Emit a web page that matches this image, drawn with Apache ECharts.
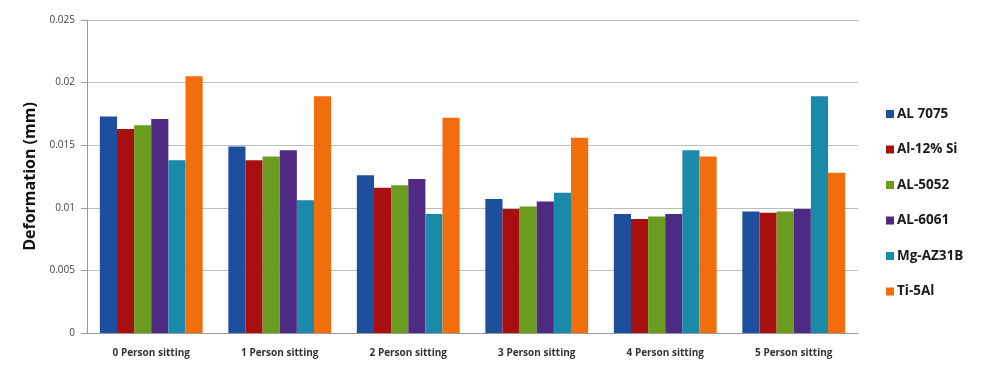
<!DOCTYPE html>
<html>
<head>
<meta charset="utf-8">
<script src="https://cdn.jsdelivr.net/npm/echarts@6/dist/echarts.min.js"></script>
<style>
  html, body { margin: 0; padding: 0; background: #fff; }
  #chart { width: 983px; height: 376px; }
</style>
</head>
<body>
<div id="chart"></div>
<script>
// Deformation (mm) of each alloy by number of people sitting
const categories = ['0 Person sitting', '1 Person sitting', '2 Person sitting', '3 Person sitting', '4 Person sitting', '5 Person sitting'];
const al7075  = [0.0173, 0.0149, 0.0126, 0.0107, 0.0095, 0.0097];
const al12Si  = [0.0163, 0.0138, 0.0116, 0.0099, 0.0091, 0.0096];
const al5052  = [0.0166, 0.0141, 0.0118, 0.0101, 0.0093, 0.0097];
const al6061  = [0.0171, 0.0146, 0.0123, 0.0105, 0.0095, 0.0099];
const mgAZ31B = [0.0138, 0.0106, 0.0095, 0.0112, 0.0146, 0.0189];
const ti5Al   = [0.0205, 0.0189, 0.0172, 0.0156, 0.0141, 0.0128];
const yTicks  = [0, 0.005, 0.01, 0.015, 0.02, 0.025];

const seriesDefs = [
  { name: 'AL 7075',   data: al7075,  color: '#1d4f9e' },
  { name: 'Al-12% Si', data: al12Si,  color: '#a81010' },
  { name: 'AL-5052',   data: al5052,  color: '#6b9c20' },
  { name: 'AL-6061',   data: al6061,  color: '#4f2a82' },
  { name: 'Mg-AZ31B',  data: mgAZ31B, color: '#1a89aa' },
  { name: 'Ti-5Al',    data: ti5Al,   color: '#f26d0c' }
];

const chart = echarts.init(document.getElementById('chart'));
chart.setOption({
  animation: false,
  grid: { left: 87, right: 125, top: 20, bottom: 43 },
  legend: {
    orient: 'vertical',
    left: 881,
    top: 102,
    itemWidth: 8,
    itemHeight: 8,
    itemGap: 21.5,
    icon: 'rect',
    textStyle: { fontFamily: 'Open Sans', fontWeight: 'bold', fontSize: 13.5, color: '#1a1a1a', padding: [0, 0, 0, -2] },
    data: seriesDefs.map(s => s.name)
  },
  xAxis: {
    type: 'category',
    data: categories,
    axisLine: { lineStyle: { color: '#999' } },
    axisTick: { show: false },
    axisLabel: { margin: 15, fontFamily: 'Open Sans', fontWeight: 'bold', fontSize: 10, color: '#333' }
  },
  yAxis: {
    type: 'value',
    min: 0,
    max: 0.025,
    interval: 0.005,
    name: 'Deformation (mm)',
    nameLocation: 'middle',
    nameGap: 46,
    nameTextStyle: { fontFamily: 'Open Sans', fontWeight: 'bold', fontSize: 16, color: '#111' },
    axisLine: { show: true, lineStyle: { color: '#999' } },
    axisTick: { show: true, length: 6, lineStyle: { color: '#999' } },
    axisLabel: {
      margin: 12, fontFamily: 'Open Sans', fontSize: 10, color: '#444',
      formatter: v => { const t = yTicks.find(x => Math.abs(x - v) < 1e-9); return String(t !== undefined ? t : v); }
    },
    splitLine: { lineStyle: { color: '#bdbdbd', width: 1 } }
  },
  series: seriesDefs.map(s => ({
    name: s.name,
    type: 'bar',
    data: s.data,
    barGap: '0%',
    barCategoryGap: '20%',
    itemStyle: { color: s.color }
  }))
});
</script>
</body>
</html>
